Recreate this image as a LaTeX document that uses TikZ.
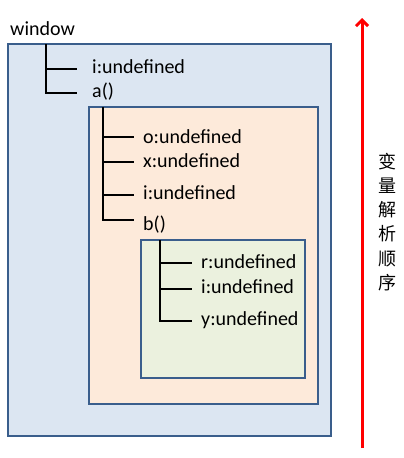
\documentclass[tikz,border=0pt]{standalone}
\usepackage{fontspec}
\setmainfont{Carlito}
\newfontfamily\cjk{Noto Sans CJK SC}
\usetikzlibrary{arrows.meta}
\definecolor{bord}{HTML}{3A5E8C}
\definecolor{winfill}{HTML}{DCE6F2}
\definecolor{afill}{HTML}{FDEADA}
\definecolor{bfill}{HTML}{EBF1DE}
\begin{document}
\begin{tikzpicture}[x=1pt,y=-1pt,
  lbl/.style={anchor=base west, inner sep=0pt, font=\fontsize{20}{24}\selectfont},
  frame/.style={draw=bord, line width=1.8pt},
  tree/.style={line width=1.8pt, black}]
\useasboundingbox (0,0) rectangle (404,458);
% boxes
\filldraw[frame, fill=winfill] (8,44) rectangle (331,436);
\filldraw[frame, fill=afill] (89,107) rectangle (318,404);
\filldraw[frame, fill=bfill] (141,240) rectangle (305,378);
% window tree
\node[lbl] (win) at (10,35) {window};
\draw[tree] (46,44) -- (46,93) -- (77,93);
\draw[tree] (46,69) -- (77,69);
\node[lbl] (wi) at (92,73) {i:undefined};
\node[lbl] (wa) at (92,97) {a()};
% a tree
\draw[tree] (103,107) -- (103,220) -- (134,220);
\draw[tree] (103,137) -- (134,137);
\draw[tree] (103,162) -- (134,162);
\draw[tree] (103,195) -- (134,195);
\node[lbl] (ao) at (143,143) {o:undefined};
\node[lbl] (ax) at (143,167) {x:undefined};
\node[lbl] (ai) at (143,199.5) {i:undefined};
\node[lbl] (ab) at (143,230.5) {b()};
% b tree
\draw[tree] (160,240) -- (160,321) -- (192,321);
\draw[tree] (160,263) -- (192,263);
\draw[tree] (160,289) -- (192,289);
\node[lbl] (br) at (201,268.5) {r:undefined};
\node[lbl] (bi) at (201,293.5) {i:undefined};
\node[lbl] (by) at (201,325) {y:undefined};
% arrow
\coordinate (arrbot) at (362,448);
\coordinate (arrtop) at (362,18);
\draw[red, line width=3pt, -{Straight Barb[length=6pt,width=12pt]}] (arrbot) -- (arrtop);
\node[inner sep=0pt, align=center, font=\cjk\fontsize{18}{24.2}\selectfont] (order) at (387,222) {变\\量\\解\\析\\顺\\序};
\end{tikzpicture}
\end{document}
